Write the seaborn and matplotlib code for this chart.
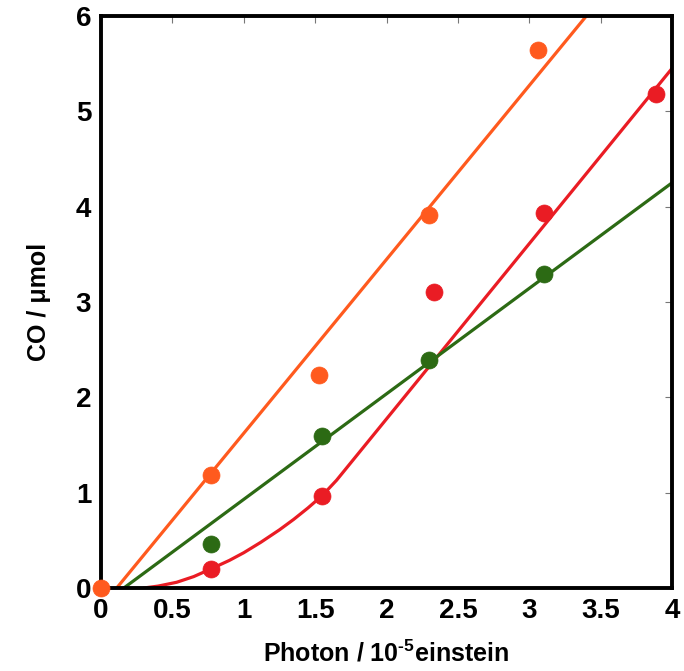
import matplotlib
matplotlib.use("Agg")
import pandas as pd
import matplotlib.pyplot as plt
import seaborn as sns

# measured points
photon = [0.0, 0.77, 1.53, 2.30, 3.06]
co_orange = [0.0, 1.19, 2.23, 3.91, 5.64]

photon_red = [0.77, 1.55, 2.33, 3.10, 3.89]
co_red = [0.20, 0.96, 3.10, 3.93, 5.18]

photon_green = [0.77, 1.55, 2.30, 3.10]
co_green = [0.46, 1.59, 2.39, 3.29]

# fitted curves
fit_orange_x = [0.11, 3.40]
fit_orange_y = [0.0, 6.0]

fit_green_x = [0.16, 4.0]
fit_green_y = [0.0, 4.25]

fit_red_x = [0.30, 0.40, 0.53, 0.65, 0.77, 0.90, 1.00, 1.12, 1.25,
             1.35, 1.45, 1.55, 1.65, 4.0]
fit_red_y = [0.0, 0.02, 0.06, 0.12, 0.20, 0.29, 0.37, 0.48, 0.61,
             0.72, 0.84, 0.97, 1.13, 5.45]

c_orange = '#ff5a1e'
c_red = '#ea1c24'
c_green = '#2c6a14'

sns.set_style('white')
plt.rcParams['font.family'] = ['Liberation Sans', 'DejaVu Sans']
plt.rcParams['text.color'] = 'black'
plt.rcParams['axes.labelcolor'] = 'black'
plt.rcParams['xtick.labelcolor'] = 'black'
plt.rcParams['ytick.labelcolor'] = 'black'
plt.rcParams['mathtext.fontset'] = 'custom'
plt.rcParams['mathtext.bf'] = 'Liberation Sans:bold'
plt.rcParams['mathtext.rm'] = 'Liberation Sans:bold'

fig = plt.figure(figsize=(6.84, 6.71), dpi=100)
ax = fig.add_axes([101 / 684, 1 - 588 / 671, 571 / 684, 572 / 671])

for fx, fy, c in [(fit_orange_x, fit_orange_y, c_orange),
                  (fit_red_x, fit_red_y, c_red),
                  (fit_green_x, fit_green_y, c_green)]:
    sns.lineplot(x=fx, y=fy, color=c, linewidth=2.3, sort=False,
                 estimator=None, ax=ax, zorder=2)

for px, py, c in [(photon, co_orange, c_orange),
                  (photon_red, co_red, c_red),
                  (photon_green, co_green, c_green)]:
    sns.scatterplot(x=px, y=py, color=c, s=150, edgecolor=c,
                    linewidth=0.5, ax=ax, zorder=3, clip_on=False)

ax.set_xlim(0, 4)
ax.set_ylim(0, 6)
ax.set_xticks([0, 0.5, 1, 1.5, 2, 2.5, 3, 3.5, 4])
ax.set_xticklabels(['0', '0.5', '1', '1.5', '2', '2.5', '3', '3.5', '4'])
ax.set_yticks([0, 1, 2, 3, 4, 5, 6])

for s in ax.spines.values():
    s.set_linewidth(2.8)
    s.set_color('black')

ax.tick_params(direction='in', length=5, width=0.8, color='#777777',
               top=True, right=True, labelsize=20, pad=7)
for lab in ax.get_xticklabels() + ax.get_yticklabels():
    lab.set_fontweight('bold')

ax.set_xlabel('Photon / 10$^{\\text{-}5}$einstein', fontsize=18,
              fontweight='bold', labelpad=12)
ax.set_ylabel('CO / \u03bcmol', fontsize=18, fontweight='bold', labelpad=18)

plt.savefig('out.png', dpi=100)
